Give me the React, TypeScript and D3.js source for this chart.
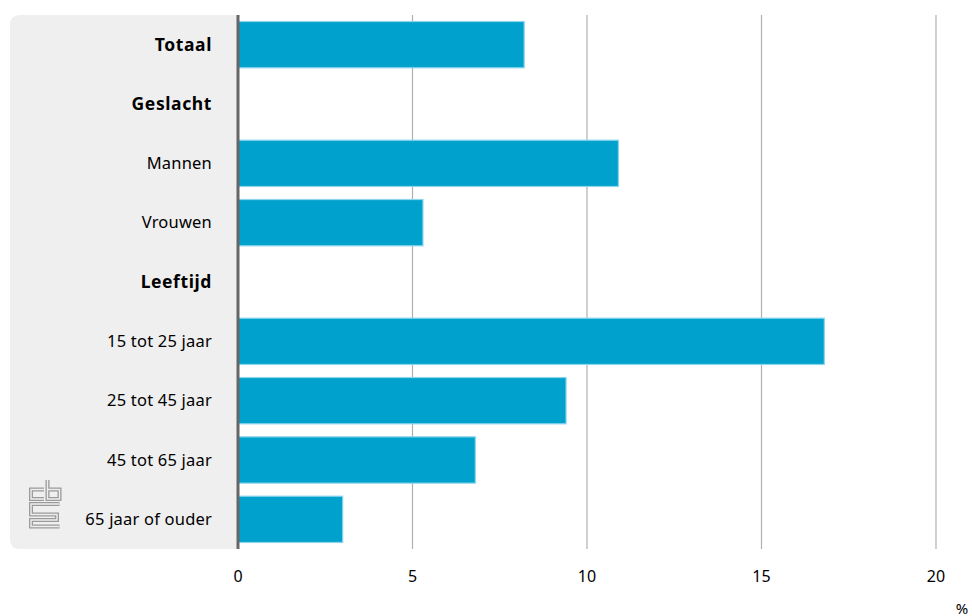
import React from "react";
import * as d3 from "d3";

const categories = ["Totaal", "Geslacht", "Mannen", "Vrouwen", "Leeftijd", "15 tot 25 jaar", "25 tot 45 jaar", "45 tot 65 jaar", "65 jaar of ouder"];
const headers = ["Totaal", "Geslacht", "Leeftijd"];
const values: (number | null)[] = [8.2, null, 10.9, 5.3, null, 16.8, 9.4, 6.8, 3.0];
const ticks = [0, 5, 10, 15, 20];
const unit = "%";

const W = 972, H = 616;
const left = 238, right = 936, top = 15, bottom = 549;
const font = "'Noto Sans', 'DejaVu Sans', sans-serif";

const logoPaths = [
  "M44,489.5 H31 V499 H44",
  "M47.5,480 V499 H59.5 V489.5 H47.5",
  "M59.5,504 H31 V514.5 H57 V520 H31 V526.5 H59.5",
];

export default function App() {
  const x = d3.scaleLinear().domain([0, 20]).range([left, right]);
  const y = d3.scaleBand<string>().domain(categories).range([top, bottom]).paddingInner(0.22).paddingOuter(0.11);
  return (
    <svg width={W} height={H} style={{ position: "absolute", left: 0, top: 0 }}>
      <path d={`M${left},${top} H${20} Q10,${top} 10,${top + 10} V${bottom - 10} Q10,${bottom} 20,${bottom} H${left} Z`} fill="#efefef" />
      {ticks.slice(1).map(t => (
        <line key={t} x1={x(t)} x2={x(t)} y1={top} y2={bottom} stroke="#b0b0b0" strokeWidth={1.2} />
      ))}
      {categories.map((c, i) => {
        const v = values[i];
        if (v == null) return null;
        return (
          <rect key={c} x={x(0)} y={y(c)!} width={x(v) - x(0)} height={y.bandwidth()} fill="#00a1cd" stroke="#8ad6ec" strokeWidth={1.2} />
        );
      })}
      <line x1={left} x2={left} y1={top} y2={bottom} stroke="#666" strokeWidth={3} />
      {categories.map(c => {
        const h = headers.includes(c);
        return (
          <text key={c} x={212} y={y(c)! + y.bandwidth() / 2} dy="0.35em" textAnchor="end" fontFamily={font} fontSize={h ? 17.5 : 16.5} letterSpacing={h ? 0.6 : 0.2} fontWeight={h ? 700 : 400} fill="#000">{c}</text>
        );
      })}
      {ticks.map(t => (
        <text key={t} x={x(t)} y={576} dy="0.35em" textAnchor="middle" fontFamily={font} fontSize={16} fill="#000">{t}</text>
      ))}
      <text x={962} y={609} dy="0.35em" textAnchor="middle" fontFamily={font} fontSize={15} fill="#000">{unit}</text>
      <g fill="none" strokeLinejoin="miter">
        {logoPaths.map((d, i) => <path key={"o" + i} d={d} stroke="#9a9a9a" strokeWidth={4} />)}
        {logoPaths.map((d, i) => <path key={"i" + i} d={d} stroke="#efefef" strokeWidth={1.4} />)}
      </g>
    </svg>
  );
}
